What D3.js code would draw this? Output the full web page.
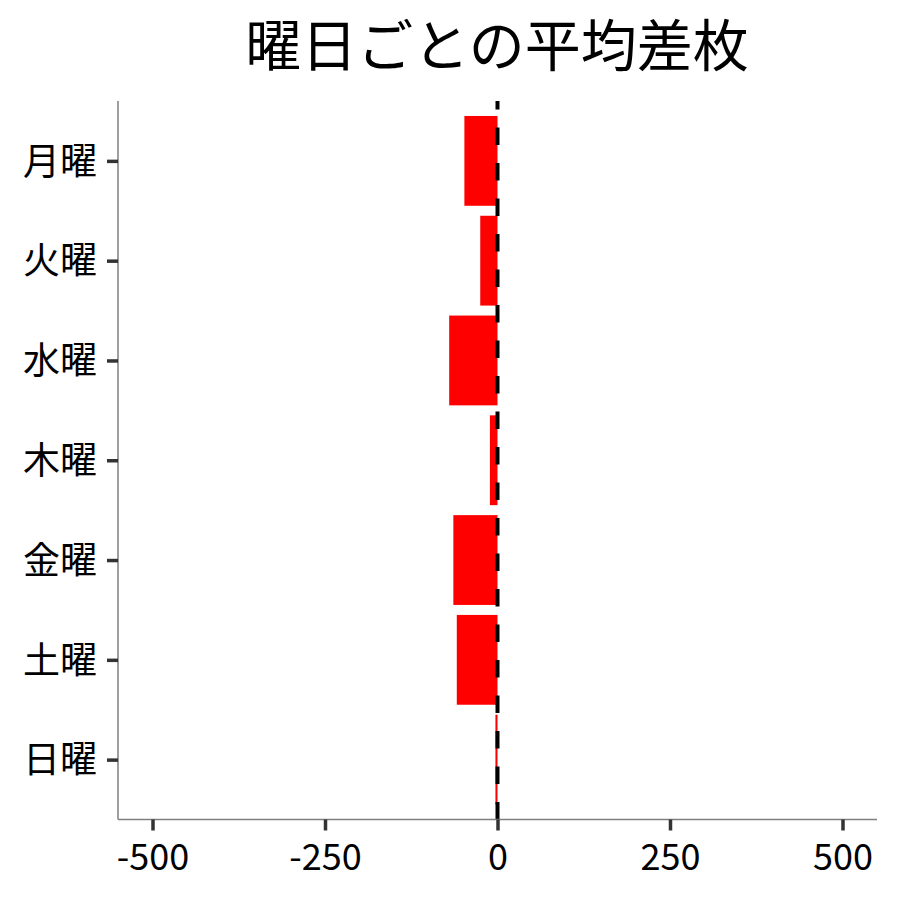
<!DOCTYPE html>
<html>
<head>
<meta charset="utf-8">
<script src="https://cdn.jsdelivr.net/npm/d3@7"></script>
<style>
  body { margin: 0; background: white; }
  text { font-family: "Noto Sans CJK JP", "Noto Sans", sans-serif; }
</style>
</head>
<body>
<svg id="chart"></svg>
<script>
// Data
const days = ["月曜", "火曜", "水曜", "木曜", "金曜", "土曜", "日曜"];
const avgDiff = [-48, -25, -70, -11, -64, -59, -3];
const xTicks = [-500, -250, 0, 250, 500];
const title = "曜日ごとの平均差枚";

function createDiffChart() {
    const width = 900;
    const height = 900;
    const margin = { top: 101, right: 23, bottom: 80.5, left: 118 };

    const svg = d3.select('#chart')
                  .attr('width', width)
                  .attr('height', height)
                  .style('background-color', 'white');

    const xScale = d3.scaleLinear()
                     .domain([-550, 550])
                     .range([margin.left, width - margin.right]);

    const yScale = d3.scalePoint()
                     .domain(days)
                     .range([margin.top, height - margin.bottom])
                     .padding(0.6);

    const barH = yScale.step() * 0.9;
    const rows = days.map((d, i) => ({ day: d, value: avgDiff[i] }));

    // Bars
    svg.append('g')
       .selectAll('rect')
       .data(rows)
       .enter()
       .append('rect')
       .attr('x', d => xScale(Math.min(0, d.value)))
       .attr('y', d => yScale(d.day) - barH / 2)
       .attr('width', d => Math.abs(xScale(d.value) - xScale(0)))
       .attr('height', barH)
       .attr('fill', '#ff0000');

    // Dashed zero line (drawn bottom to top)
    svg.append('line')
       .attr('x1', xScale(0))
       .attr('x2', xScale(0))
       .attr('y1', height - margin.bottom)
       .attr('y2', margin.top)
       .attr('stroke', 'black')
       .attr('stroke-width', 4)
       .attr('stroke-dasharray', '17.5,18');

    // X axis
    const xAxis = svg.append('g')
       .attr('transform', `translate(0,${height - margin.bottom})`)
       .call(d3.axisBottom(xScale)
           .tickValues(xTicks)
           .tickSize(11)
           .tickPadding(6)
           .tickFormat(d => d));
    xAxis.select('.domain')
         .attr('d', `M${margin.left},0H${width - margin.right}`)
         .attr('stroke', '#7f7f7f')
         .attr('stroke-width', 1.5);
    xAxis.selectAll('.tick line')
         .attr('stroke', '#333333')
         .attr('stroke-width', 3.5);
    xAxis.selectAll('.tick text')
         .attr('fill', 'black')
         .style('font-size', '36px')
         .attr('dy', '0.92em');

    // Y axis
    const yAxis = svg.append('g')
       .attr('transform', `translate(${margin.left},0)`)
       .call(d3.axisLeft(yScale)
           .tickSize(11)
           .tickPadding(10));
    yAxis.select('.domain')
         .attr('d', `M0,${margin.top}V${height - margin.bottom}`)
         .attr('stroke', '#7f7f7f')
         .attr('stroke-width', 1.5);
    yAxis.selectAll('.tick line')
         .attr('stroke', '#333333')
         .attr('stroke-width', 3.5);
    yAxis.selectAll('.tick text')
         .attr('fill', 'black')
         .style('font-size', '37px')
         .attr('dy', '0.36em');

    // Title
    svg.append('text')
       .attr('x', 497)
       .attr('y', 66)
       .style('text-anchor', 'middle')
       .style('font-size', '56px')
       .style('fill', 'black')
       .text(title);
}

document.addEventListener('DOMContentLoaded', () => {
    createDiffChart();
});
</script>
</body>
</html>
